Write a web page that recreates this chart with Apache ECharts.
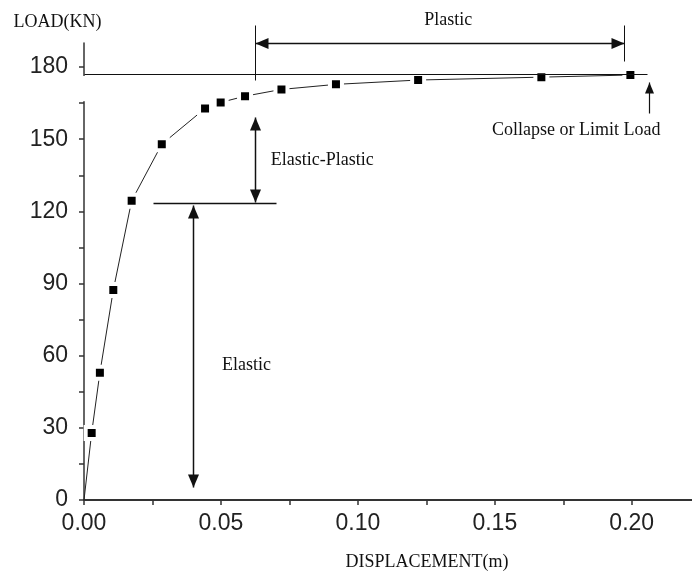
<!DOCTYPE html>
<html><head><meta charset="utf-8">
<script src="https://cdn.jsdelivr.net/npm/echarts@6/dist/echarts.min.js"></script>
<style>html,body{margin:0;padding:0;background:#fff}#c{width:692px;height:575px}</style>
</head><body><div id="c"></div>
<script>
// ---- data ----
const displacement = [0, 0.0028, 0.0058, 0.0107, 0.0174, 0.0284, 0.0442, 0.0499, 0.0588, 0.0721, 0.092, 0.122, 0.167, 0.1995];
const load = [0, 27.9, 52.9, 87.3, 124.4, 147.9, 162.8, 165.3, 167.9, 170.7, 172.8, 174.6, 175.8, 176.7];
const xTickLabels = [0, 0.05, 0.10, 0.15, 0.20];
const xTickMarks = [0, 0.025, 0.05, 0.075, 0.10, 0.125, 0.15, 0.175, 0.20];
const yTickLabels = [0, 30, 60, 90, 120, 150, 180];
const yTickMarks = [0, 15, 30, 45, 60, 75, 90, 105, 120, 135, 150, 165, 180];

// ---- annotation values (data units) ----
const limitLoad = 177.1;
const limitLineEnd = 0.2055;
const plasticRange = [0.0624, 0.197];
const plasticArrowLoad = 190;
const plasticTickTop = 197.5;
const plasticTickBottom = [174.6, 182.5];
const collapseArrow = { x: 0.2062, from: 160.9, to: 173.8 };
const elasticLimit = 123.5;
const elasticLimitLine = [0.0252, 0.0701];
const elasticPlasticArrow = { x: 0.0624, top: 159.2, bottom: 123.9 };
const elasticArrow = { x: 0.0398, top: 122.6, bottom: 5.4 };
const labels = [
  { text: 'Plastic', x: 0.133, y: 199.5, align: 'center' },
  { text: 'Collapse or Limit Load', x: 0.1797, y: 153.8, align: 'center' },
  { text: 'Elastic-Plastic', x: 0.0682, y: 141.3, align: 'left' },
  { text: 'Elastic', x: 0.0504, y: 56.1, align: 'left' }
];

const serif = '"Liberation Serif", "Times New Roman", serif';
const sans = '"Liberation Sans", Arial, sans-serif';
const ink = '#111';

const chart = echarts.init(document.getElementById('c'), null, { renderer: 'canvas' });

const seriesData = displacement.map((x, i) => {
  const item = { value: [x, load[i]] };
  if (i === 0) item.symbol = 'none';
  return item;
});

chart.setOption({
  animation: false,
  backgroundColor: '#fff',
  grid: { left: 84, right: 0, top: 43, bottom: 75, containLabel: false, outerBoundsMode: 'none' },
  xAxis: {
    type: 'value', min: 0, max: 0.222,
    name: 'DISPLACEMENT(m)', nameLocation: 'middle', nameGap: 53,
    nameTextStyle: { fontFamily: serif, fontSize: 18, color: ink, padding: [0, 0, 0, 78] },
    axisLine: { show: true, onZero: false, lineStyle: { color: '#333', width: 2 } },
    axisTick: { show: true, inside: false, length: 5, customValues: xTickMarks, lineStyle: { color: '#333', width: 1.5 } },
    axisLabel: { customValues: xTickLabels, margin: 12, fontFamily: sans, fontSize: 23, color: '#222',
      formatter: v => Number(v).toFixed(2) },
    splitLine: { show: false }
  },
  yAxis: {
    type: 'value', min: 0, max: 190,
    name: 'LOAD(KN)', nameLocation: 'end', nameGap: 12,
    nameTextStyle: { fontFamily: serif, fontSize: 18, color: ink, align: 'center', padding: [0, 53, 0, 0] },
    axisLine: { show: true, onZero: false, lineStyle: { color: '#333', width: 1.5 } },
    axisTick: { show: true, inside: false, length: 5, customValues: yTickMarks, lineStyle: { color: '#333', width: 1.5 } },
    axisLabel: { customValues: yTickLabels, margin: 16, fontFamily: sans, fontSize: 23, color: '#222' },
    splitLine: { show: false }
  },
  series: [{
    type: 'line',
    data: seriesData,
    symbol: 'rect', symbolSize: 12,
    itemStyle: { color: '#000', borderColor: '#fff', borderWidth: 4 },
    lineStyle: { color: '#222', width: 1 },
    emphasis: { disabled: true },
    silent: true
  }]
});

function px(x, y) { return chart.convertToPixel({ gridIndex: 0 }, [x, y]); }
function seg(a, b, w) {
  return { type: 'line', silent: true, z: 100,
    shape: { x1: a[0], y1: a[1], x2: b[0], y2: b[1] },
    style: { stroke: ink, lineWidth: w || 1 } };
}
function head(tip, from, len, halfW) {
  const dx = tip[0] - from[0], dy = tip[1] - from[1], d = Math.hypot(dx, dy);
  const ux = dx / d, uy = dy / d;
  const bx = tip[0] - ux * len, by = tip[1] - uy * len;
  return { type: 'polygon', silent: true, z: 101,
    shape: { points: [[tip[0], tip[1]], [bx - uy * halfW, by + ux * halfW], [bx + uy * halfW, by - ux * halfW]] },
    style: { fill: ink } };
}
function snap(p) { return [Math.round(p[0]) + 0.5, Math.round(p[1]) + 0.5]; }

function drawAnnotations() {
  const els = [];
  // white gap in the y axis below the limit line (as in the reference)
  const g1 = px(0, limitLoad - 0.8), g2 = px(0, 165.8);
  els.push({ type: 'rect', silent: true, z: 99, shape: { x: g1[0] - 8, y: g1[1], width: 12, height: g2[1] - g1[1] }, style: { fill: '#fff' } });
  // limit load horizontal line
  els.push(seg(snap(px(0, limitLoad)), snap(px(limitLineEnd, limitLoad))));
  // plastic range
  const pl = snap(px(plasticRange[0], plasticArrowLoad)), pr = snap(px(plasticRange[1], plasticArrowLoad));
  els.push(seg(snap(px(plasticRange[0], plasticTickTop)), snap(px(plasticRange[0], plasticTickBottom[0]))));
  els.push(seg(snap(px(plasticRange[1], plasticTickTop)), snap(px(plasticRange[1], plasticTickBottom[1]))));
  els.push(seg(pl, pr, 1.5));
  els.push(head(pl, pr, 13, 5.5));
  els.push(head(pr, pl, 13, 5.5));
  // collapse arrow
  const cf = snap(px(collapseArrow.x, collapseArrow.from)), ct = snap(px(collapseArrow.x, collapseArrow.to));
  els.push(seg(cf, ct, 1.2));
  els.push(head(ct, cf, 11, 4.5));
  // elastic limit line
  els.push(seg(snap(px(elasticLimitLine[0], elasticLimit)), snap(px(elasticLimitLine[1], elasticLimit)), 1.5));
  // elastic-plastic double arrow
  const et = snap(px(elasticPlasticArrow.x, elasticPlasticArrow.top)), eb = snap(px(elasticPlasticArrow.x, elasticPlasticArrow.bottom));
  els.push(seg(et, eb, 1.5));
  els.push(head(et, eb, 13, 5.5));
  els.push(head(eb, et, 13, 5.5));
  // elastic double arrow
  const at = snap(px(elasticArrow.x, elasticArrow.top)), ab = snap(px(elasticArrow.x, elasticArrow.bottom));
  els.push(seg(at, ab, 1.5));
  els.push(head(at, ab, 13, 5.5));
  els.push(head(ab, at, 13, 5.5));
  // labels
  labels.forEach(l => {
    const p = px(l.x, l.y);
    els.push({ type: 'text', silent: true, z: 102, x: p[0], y: p[1],
      style: { text: l.text, fontFamily: serif, fontSize: 18, fill: ink,
        align: l.align, verticalAlign: 'middle', textAlign: l.align, textVerticalAlign: 'middle' } });
  });
  chart.setOption({ graphic: { elements: els } });
}
drawAnnotations();
</script>
</body></html>
